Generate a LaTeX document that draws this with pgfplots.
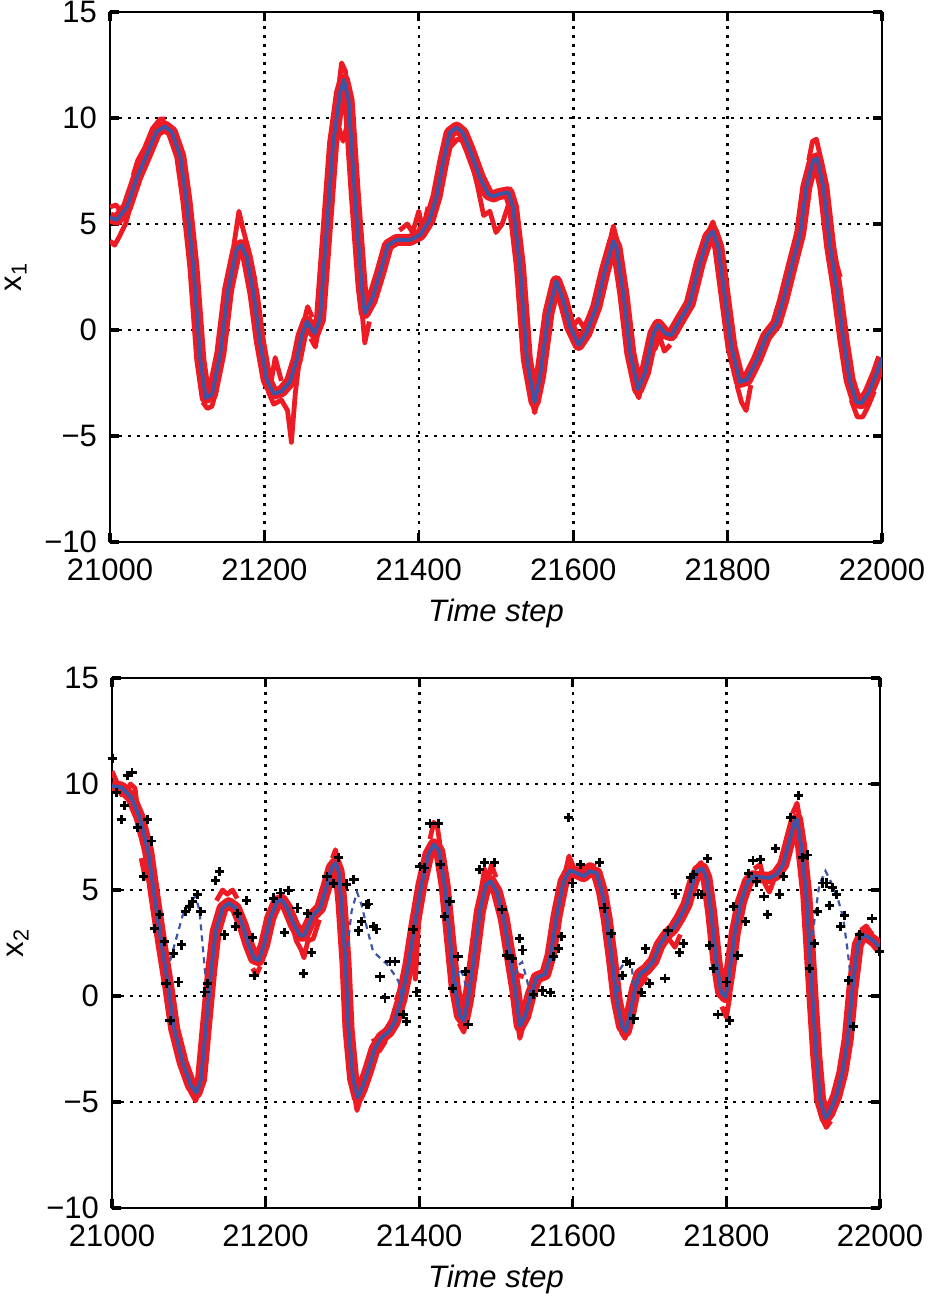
\documentclass[border=0pt]{standalone}
\usepackage{pgfplots}
\pgfplotsset{compat=1.18}
\usepackage{pgfplotstable}
\usepackage{fontspec}
\setmainfont{Liberation Sans}
\definecolor{ensred}{RGB}{237,28,36}
\definecolor{truthblue}{RGB}{61,85,166}

\pgfplotstableread{
x y
21000 5.3
21009 5.2
21022 5.8
21035 7.2
21048 8.3
21060 9.35
21071 9.6
21080 9.35
21091 8.2
21099 6.1
21108 3.0
21117 -1.4
21124 -3.2
21132 -3.05
21143 -1.1
21153 1.9
21164 3.8
21170 4.0
21177 3.45
21186 1.7
21194 -0.5
21203 -2.35
21212 -3.0
21222 -2.9
21233 -2.45
21242 -1.4
21248 -0.3
21255 0.4
21265 -0.15
21272 0.5
21281 4.9
21289 8.8
21298 11.2
21303 11.8
21309 10.85
21317 6.45
21326 2.05
21330 0.8
21339 1.4
21350 2.7
21360 4.0
21371 4.25
21389 4.25
21402 4.5
21414 5.2
21423 6.3
21432 8.0
21440 9.3
21449 9.55
21457 9.3
21466 8.5
21479 7.2
21490 6.4
21497 6.3
21503 6.4
21516 6.5
21522 5.8
21531 3.0
21540 -1.4
21550 -3.4
21557 -2.2
21568 0.8
21578 2.3
21587 1.4
21596 0.15
21607 -0.7
21617 -0.15
21630 1.1
21641 2.8
21652 4.2
21656 3.9
21665 1.7
21674 -1.1
21684 -2.8
21693 -2.0
21704 -0.15
21710 0.25
21719 -0.15
21727 -0.25
21738 0.45
21751 1.25
21764 3.15
21775 4.4
21781 4.65
21788 3.9
21797 1.4
21805 -0.8
21816 -2.45
21825 -2.35
21838 -1.4
21850 -0.3
21863 0.3
21872 1.4
21883 3.0
21894 4.55
21902 6.75
21911 8.0
21916 8.1
21924 6.75
21933 3.9
21941 2.05
21950 -0.45
21958 -2.35
21967 -3.4
21973 -3.45
21982 -3.0
21993 -2.05
22000 -1.3
}\topblue

\pgfplotstableread{
x y
21000 9.9
21012 9.84
21025 9.37
21036 8.42
21047 6.84
21055 4.78
21064 2.56
21073 0.51
21081 -1.55
21092 -3.13
21103 -4.24
21110 -4.56
21116 -3.92
21122 -1.55
21129 1.14
21135 3.04
21144 4.15
21152 4.38
21161 4.15
21170 3.35
21178 2.41
21185 1.77
21191 1.69
21198 2.41
21206 3.67
21215 4.46
21221 4.54
21228 4.15
21237 3.35
21245 2.85
21250 2.85
21256 3.35
21262 3.83
21271 4.15
21280 5.25
21286 6.04
21291 6.28
21295 5.89
21299 4.3
21304 1.61
21308 -1.55
21314 -3.92
21320 -4.79
21325 -4.4
21334 -3.45
21342 -2.5
21351 -1.95
21360 -1.7
21368 -1.23
21377 -0.13
21386 1.46
21394 3.35
21403 5.25
21412 6.68
21419 7.15
21426 6.84
21433 5.25
21440 2.72
21446 0.51
21453 -0.92
21458 -1.16
21463 -0.29
21470 1.46
21479 3.99
21487 5.25
21493 5.41
21501 4.92
21510 3.67
21518 1.9
21525 0.32
21531 -1.42
21538 -0.95
21545 0.03
21553 0.87
21564 1.03
21571 1.9
21579 3.8
21588 5.4
21596 5.93
21605 5.8
21614 5.65
21622 5.89
21631 5.8
21638 4.92
21644 3.67
21651 1.74
21657 -0.16
21664 -1.42
21669 -1.66
21674 -0.95
21681 0.32
21687 1.03
21696 1.27
21705 1.66
21713 2.4
21722 2.88
21731 3.2
21739 3.67
21748 4.3
21757 5.41
21763 5.93
21769 6.01
21774 5.57
21780 3.99
21787 1.61
21793 0.19
21799 -0.05
21804 1.11
21811 3.0
21819 4.45
21828 5.4
21835 5.65
21845 5.6
21856 5.57
21865 5.73
21874 6.2
21882 7.3
21889 8.26
21892 8.34
21897 7.15
21904 4.78
21908 2.4
21912 0.03
21917 -2.82
21922 -4.89
21929 -5.76
21934 -5.52
21943 -4.73
21951 -3.62
21958 -2.03
21964 0.32
21971 2.4
21977 2.88
21984 2.8
21993 2.56
22000 2.25
}\botblue

\pgfplotsset{
  panel/.style={
    scale only axis,
    xmin=21000, xmax=22000, ymin=-10, ymax=15,
    xtick={21000,21200,21400,21600,21800,22000},
    xticklabels={21000,21200,21400,21600,21800,22000},
    scaled x ticks=false,
    ytick={-10,-5,0,5,10,15},
    yticklabels={−10,−5,0,5,10,15},
    grid=major,
    major grid style={black, line width=1.3pt, dash pattern=on 1.3pt off 3.2pt},
    tick align=inside,
    major tick length=4.5pt,
    every tick/.style={black, line width=1.6pt},
    axis line style={line width=1pt},
    tick label style={font=\fontsize{15.5}{18}\selectfont},
    xticklabel style={yshift=-5pt},
    yticklabel style={xshift=-3pt},
    label style={font=\fontsize{15.5}{18}\selectfont},
    xlabel={\textit{Time step}},
    xlabel style={yshift=-2pt},
    ylabel style={yshift=2pt},
    unbounded coords=jump,
  },
  band/.style={ensred, line width=6pt, line join=round},
  spike/.style={ensred, line width=2.4pt, line join=round},
  truth/.style={truthblue, line width=1.9pt, line join=round},
}

\begin{document}
\begin{tikzpicture}
\path[use as bounding box] (-55pt,-381.5pt) rectangle (409.5pt,271pt);
\begin{axis}[panel, at={(0pt,0pt)}, anchor=south west, width=386pt, height=265pt,
  ylabel={x\textsubscript{1}}]
\addplot[band] table {\topblue};
\addplot[spike] coordinates {
(21000,4.2)(21006,4.0)(21012,4.4)(21020,5.0)(21028,6.0) (21029,nan)
(21000,5.8)(21008,5.9)(21015,5.5) (21016,nan)
(21030,7.3)(21036,8.0)(21045,8.6)(21055,9.5)(21065,9.95)(21072,9.95) (21073,nan)
(21120,-3.4)(21126,-3.7)(21132,-3.6)(21138,-2.8) (21139,nan)
(21160,3.9)(21167,5.6)(21172,4.8)(21180,3.7)(21188,2.3) (21189,nan)
(21205,-2.9)(21212,-3.5)(21222,-3.3)(21230,-3.8)(21235,-5.3)(21240,-3.0)(21245,-1.5) (21246,nan)
(21208,-2.6)(21214,-1.3)(21222,-2.4) (21223,nan)
(21250,0.2)(21256,1.1)(21262,0.6) (21263,nan)
(21260,-0.4)(21266,-0.8)(21271,0.2) (21272,nan)
(21293,10.5)(21300,12.6)(21305,12.2)(21310,10.5) (21311,nan)
(21297,9.5)(21302,8.9)(21308,9.8)(21314,8.0) (21315,nan)
(21325,1.5)(21330,-0.6)(21336,0.4) (21337,nan)
(21375,4.7)(21385,5.0)(21392,4.6)(21400,5.6)(21405,4.7)(21412,5.8) (21413,nan)
(21432,7.4)(21440,8.6)(21450,9.0)(21460,8.9)(21468,8.0)(21476,6.8)(21484,5.4)(21492,5.6)(21500,4.6)(21508,5.0)(21516,5.9) (21517,nan)
(21545,-3.0)(21550,-3.9)(21555,-3.2) (21556,nan)
(21600,0.2)(21607,0.5)(21614,0.1)(21620,0.6) (21621,nan)
(21647,4.1)(21652,4.9)(21657,4.2) (21658,nan)
(21680,-2.8)(21685,-3.2)(21690,-2.4) (21691,nan)
(21700,-0.4)(21706,-0.9)(21712,-0.3)(21718,-1.0)(21726,-0.7) (21727,nan)
(21776,4.7)(21781,5.1)(21786,4.5) (21787,nan)
(21812,-2.6)(21818,-3.4)(21824,-3.8)(21830,-2.6) (21831,nan)
(21905,8.0)(21910,8.9)(21915,9.0)(21920,8.2) (21921,nan)
(21936,3.9)(21942,3.0)(21946,2.5) (21947,nan)
(21960,-3.3)(21968,-4.1)(21975,-4.1)(21982,-3.6)(21990,-2.9)
};
\addplot[truth] table {\topblue};
\end{axis}

\begin{axis}[panel, at={(1pt,-333pt)}, anchor=south west, width=384pt, height=265pt,
  ylabel={x\textsubscript{2}}]
\addplot[band] table {\botblue};
\addplot[spike] coordinates {
(21000,10.6)(21005,10.2)(21012,9.5)(21018,9.6)(21024,10.0)(21030,9.8)(21036,8.0) (21037,nan)
(21038,6.5)(21043,5.6)(21048,5.5) (21049,nan)
(21102,-4.5)(21109,-4.95)(21114,-4.3) (21115,nan)
(21136,4.5)(21144,5.0)(21150,4.8)(21157,5.0)(21163,4.6) (21164,nan)
(21183,1.3)(21188,1.0)(21193,1.4) (21194,nan)
(21225,4.3)(21233,3.6)(21240,2.6)(21246,2.2)(21250,1.8)(21255,2.6)(21262,2.7)(21270,3.6) (21271,nan)
(21287,6.5)(21291,6.9)(21296,6.1) (21297,nan)
(21314,-4.3)(21319,-5.4)(21324,-4.8) (21325,nan)
(21340,-2.0)(21348,-2.6)(21355,-2.2)(21362,-1.4) (21363,nan)
(21370,-0.2)(21380,0.8)(21390,2.2)(21395,0.8)(21400,3.9) (21401,nan)
(21414,7.4)(21419,8.2)(21424,7.9)(21430,6.4) (21431,nan)
(21452,-1.3)(21458,-1.7)(21463,-0.9) (21464,nan)
(21480,4.8)(21485,6.0)(21490,5.5)(21494,6.2)(21500,5.6) (21501,nan)
(21525,-0.5)(21531,-2.0)(21537,-1.2) (21538,nan)
(21520,1.5)(21528,1.0)(21536,0.9) (21537,nan)
(21590,5.8)(21595,6.6)(21602,6.0)(21612,6.0)(21622,6.2)(21630,6.1) (21631,nan)
(21663,-1.7)(21668,-2.0)(21674,-1.3) (21675,nan)
(21683,0.3)(21690,0.6)(21697,0.9) (21698,nan)
(21725,2.7)(21733,2.3)(21740,2.9) (21741,nan)
(21762,6.1)(21767,6.3)(21772,5.8) (21773,nan)
(21794,-0.5)(21800,-1.0)(21805,0.1) (21806,nan)
(21836,6.0)(21844,6.2)(21850,5.3)(21856,4.9)(21862,5.5) (21863,nan)
(21886,8.6)(21892,9.1)(21897,8.0) (21898,nan)
(21925,-5.8)(21930,-6.2)(21936,-5.9) (21937,nan)
(21975,3.1)(21982,3.3)(21990,2.9)
};
\addplot[truthblue, line width=1.1pt, dash pattern=on 3pt off 2.5pt] coordinates {
(21069,1.2)(21076,1.7)(21082,2.5)(21092,3.8)(21103,4.5)(21109,4.7)(21114,4.0)(21118,2.4)(21122,0.8)(21125,0.0) (21126,nan)
(21305,1.8)(21312,4.0)(21319,4.9)(21325,4.3)(21332,3.2)(21340,2.1)(21349,1.8)(21358,1.5)(21366,1.1)(21373,0.7)(21377,-0.1) (21378,nan)
(21447,0.4)(21452,1.3)(21457,1.0)(21462,0.3) (21463,nan)
(21524,0.5)(21527,1.4)(21534,1.6)(21540,0.8)(21545,0.0) (21546,nan)
(21659,0.2)(21662,1.3)(21670,1.7)(21677,1.3)(21680,0.3) (21681,nan)
(21909,1.8)(21915,3.7)(21921,5.25)(21929,5.9)(21936,5.4)(21945,4.6)(21952,3.7)(21958,2.1)(21962,0.8)(21965,0.2)
};
\addplot[truth] table {\botblue};
\addplot[only marks, mark=+, mark size=2.3pt, black, mark options={line width=1.45pt}] coordinates {
(21001,11.19)(21005.6,9.6)(21012,8.34)(21016,8.97)(21020.7,10.4)(21026,10.55)
(21033.7,7.94)(21046.6,8.34)(21051,7.31)(21041,5.62)(21055,3.2)(21061.8,3.83)
(21068,2.56)(21070.4,0.59)(21075.6,-1.16)(21080.3,2.0)(21086.4,0.66)(21090,2.41)
(21096,3.99)(21100.6,4.22)(21105,4.46)(21111,4.78)(21115.8,3.99)(21121,0.19)
(21124.4,0.59)(21135,5.44)(21140,5.89)(21146,2.88)(21161,3.28)(21163,3.91)
(21175,4.51)(21182.7,2.75)(21185,0.98)(21210,4.62)(21219.4,4.86)(21230,4.98)
(21225,2.99)(21241,4.15)(21249.7,1.06)(21255,3.91)(21260,2.06)(21280,5.63)
(21288.6,5.3)(21295,6.52)(21305,5.28)(21315,5.49)(21321,3.07)(21325,3.51)
(21331.7,4.3)(21334,4.34)(21340,3.28)(21344.7,3.16)(21349,0.9)(21355.5,-0.09)
(21362,1.61)(21368.5,1.61)(21379,-0.89)(21383.6,-1.2)(21392,3.12)(21396.5,0.19)
(21401,6.12)(21407,6.04)(21414,8.15)(21424.6,8.15)(21427.6,6.2)(21433,3.75)
(21440,4.46)(21443,0.35)(21450.5,1.85)(21460.5,1.14)(21463.5,-1.36)(21478.6,5.97)
(21485,6.28)(21498,6.28)(21507.8,4.07)(21514,1.93)(21521,1.77)(21531,2.72)
(21535,2.17)(21549,0.08)(21560.6,0.24)(21570.6,0.16)(21575,1.85)(21581,2.25)
(21585.7,2.8)(21594,8.42)(21600,5.33)(21609.5,6.2)(21634.6,6.31)(21640.7,4.15)
(21649.8,2.96)(21665,0.98)(21670,1.61)(21674.5,1.53)(21679.6,-1.08)(21689.6,0.16)
(21694.8,2.22)(21699.6,0.6)(21720,0.82)(21724,3.07)(21733.8,4.81)(21739,2.06)
(21744.6,2.48)(21753,5.57)(21756.7,5.73)(21763,4.78)(21768,4.78)(21775,6.49)
(21778,2.37)(21782.7,1.3)(21789,-0.89)(21800,0.66)(21804,-1.16)(21809.5,4.22)
(21815,1.9)(21824.7,3.51)(21829,5.76)(21834.6,6.39)(21844.6,6.44)(21839,5.38)
(21849,4.7)(21854,3.86)(21864,6.96)(21869,4.78)(21874.5,5.65)(21884,8.42)
(21894,9.45)(21898.7,6.52)(21906,6.65)(21908,1.3)(21914.7,2.48)(21919,3.99)
(21925.5,5.33)(21930,5.33)(21934,4.27)(21938.5,5.1)(21943.7,4.78)(21949,3.28)
(21954,3.8)(21959,0.74)(21965,-1.42)(21973,2.88)(21989.6,3.64)(21999,2.09)
};
\end{axis}
\end{tikzpicture}
\end{document}
